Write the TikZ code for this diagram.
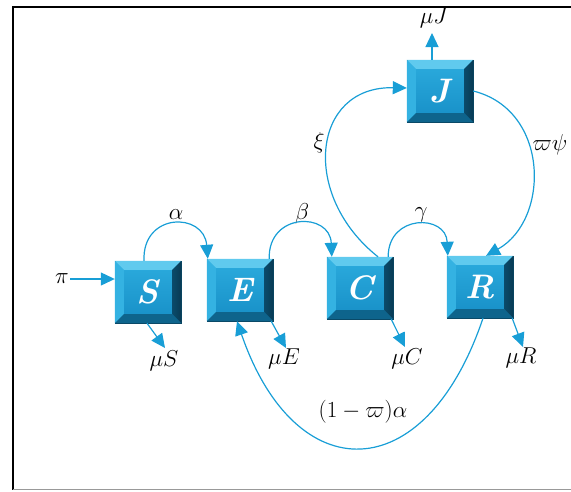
\RequirePackage{fix-cm}
\documentclass[tikz,border=0pt]{standalone}
\usetikzlibrary{arrows.meta,calc}
\definecolor{flow}{RGB}{24,158,214}
\definecolor{facetop}{RGB}{44,172,222}
\definecolor{facebot}{RGB}{22,142,198}
\definecolor{bevT}{RGB}{96,202,238}
\definecolor{bevL}{RGB}{52,178,226}
\definecolor{bevR}{RGB}{8,58,84}
\definecolor{bevB}{RGB}{14,100,140}
\tikzset{
  cbox/.style={minimum width=66pt,minimum height=62pt,inner sep=0pt,
    top color=facetop,bottom color=facebot,draw=bevB!70!black,line width=0.4pt},
  boxtext/.style={text=white,font=\fontsize{34pt}{38pt}\selectfont\bfseries\itshape},
  flowarrow/.style={draw=flow,line width=1.2pt,-{Triangle[length=14pt,width=13pt]}},
  lab/.style={font=\fontsize{23pt}{27pt}\selectfont,inner sep=1pt}
}
\newcommand{\compbox}[3]{%
  \node[cbox] (#1) at (#2) {};
  \fill[bevT] (#1.north west) -- (#1.north east) -- ([xshift=-9pt,yshift=-9pt]#1.north east) -- ([xshift=9pt,yshift=-9pt]#1.north west) -- cycle;
  \fill[bevL] (#1.north west) -- ([xshift=9pt,yshift=-9pt]#1.north west) -- ([xshift=9pt,yshift=9pt]#1.south west) -- (#1.south west) -- cycle;
  \shade[left color=bevR!60!bevB,right color=bevR] (#1.north east) -- ([xshift=-9pt,yshift=-9pt]#1.north east) -- ([xshift=-9pt,yshift=9pt]#1.south east) -- (#1.south east) -- cycle;
  \fill[bevB] (#1.south west) -- ([xshift=9pt,yshift=9pt]#1.south west) -- ([xshift=-9pt,yshift=9pt]#1.south east) -- (#1.south east) -- cycle;
  \node[boxtext] (#1txt) at (#1.center) {#3};
}
\begin{document}
\begin{tikzpicture}[x=1pt,y=-1pt]
\useasboundingbox (0,0) rectangle (571,491);
% frame
\draw[black,line width=2.2pt] (571,7) -- (13,7) -- (13,490);
\draw[gray!80,line width=1.5pt] (13,489.5) -- (571,489.5);

\compbox{S}{148,292}{S}
\compbox{E}{240,290}{E}
\compbox{C}{360,288}{C}
\compbox{R}{480,287}{R}
\compbox{J}{440,91}{J}

% free ends
\coordinate (piS) at (70,279);
\coordinate (mJ) at (432,33);
\coordinate (mS) at (165,348);
\coordinate (mE) at (286,348);
\coordinate (mC) at (405,347);
\coordinate (mR) at (523,347);

% labels
\node[lab,anchor=east] (lpi) at (piS) {$\pi$};
\node[lab] (lmJ) at (434,18) {$\mu J$};
\node[lab] (lmS) at (164,361) {$\mu S$};
\node[lab] (lmE) at (284,359) {$\mu E$};
\node[lab] (lmC) at (407,359) {$\mu C$};
\node[lab] (lmR) at (521,358) {$\mu R$};
\node[lab] (la) at (176,215) {$\alpha$};
\node[lab] (lb) at (302,214) {$\beta$};
\node[lab] (lg) at (421,215) {$\gamma$};
\node[lab] (lxi) at (319,143) {$\xi$};
\node[lab] (lvp) at (550,145) {$\varpi\psi$};
\node[lab] (l1a) at (363,412) {$(1-\varpi)\alpha$};

% flows
\draw[flowarrow] (piS) -- ($(S.west)+(0,-13)$);
\draw[flowarrow] ($(J.north)+(-8,0)$) -- (mJ);
\draw[flowarrow] ($(S.south)+(-1,0)$) -- (mS);
\draw[flowarrow] ($(E.south east)+(-2,0)$) -- (mE);
\draw[flowarrow] ($(C.south east)+(-2,0)$) -- (mC);
\draw[flowarrow] ($(R.south east)+(-1,0)$) -- (mR);

\draw[flowarrow] ($(S.north)+(-4,0)$) .. controls (142,212) and (204,212) .. ($(E.north west)+(1,0)$);
\draw[flowarrow] ($(E.north east)+(-4,0)$) .. controls (268,212) and (330,212) .. ($(C.north west)+(5,0)$);
\draw[flowarrow] ($(C.north east)+(-5,0)$) .. controls (388,214) and (446,214) .. ($(R.north west)+(1,0)$);
\draw[flowarrow] ($(C.north)+(18,0)$) .. controls (300,195) and (312,86) .. ($(J.west)+(0,-3)$);
\draw[flowarrow] (J.east) .. controls (550,110) and (550,220) .. ($(R.north)+(6,0)$);
\draw[flowarrow] ($(R.south)+(3,0)$) .. controls (425,490) and (295,490) .. ($(E.south)+(-3,0)$);
\end{tikzpicture}
\end{document}
